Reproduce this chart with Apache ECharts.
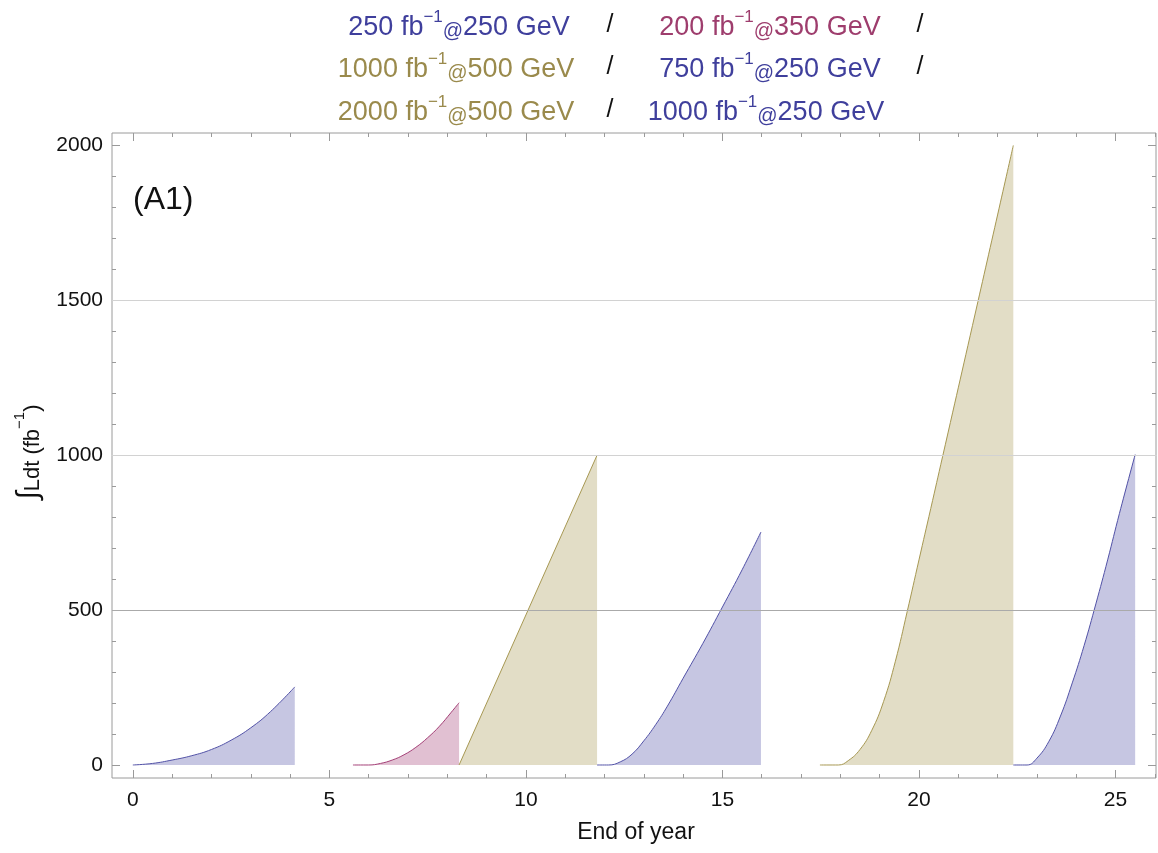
<!DOCTYPE html>
<html>
<head>
<meta charset="utf-8">
<script src="https://cdn.jsdelivr.net/npm/echarts@6/dist/echarts.min.js"></script>
<style>
  html, body { margin: 0; padding: 0; background: #fff; }
  #chart { width: 1158px; height: 853px; }
</style>
</head>
<body>
<div id="chart"></div>
<script>
// integrated luminosity runs, [end of year, fb^-1]
const run250a = [[0, 0], [0.5, 5], [1, 16], [1.5, 30], [2, 50], [2.5, 80], [3, 120], [3.5, 172], [4.12, 252]];
const run350 = [[5.6, 0], [6.0, 0], [6.3, 5], [6.6, 16], [6.9, 33], [7.2, 57], [7.5, 88], [7.8, 125], [8.1, 170], [8.3, 201]];
const run500a = [[8.3, 0], [11.81, 1000]];
const run250b = [[11.81, 0], [12.1, 0], [12.4, 10], [12.7, 35], [13.0, 78], [13.3, 130], [13.6, 190], [14.0, 280], [14.5, 392], [15.0, 510], [15.5, 630], [15.98, 752]];
const run500b = [[17.48, 0], [17.95, 0], [18.2, 14], [18.5, 50], [18.8, 112], [19.1, 205], [19.4, 335], [19.7, 495], [20.0, 662], [20.3, 828], [20.6, 995], [21.5, 1496], [22.4, 2000]];
const run250c = [[22.4, 0], [22.75, 0], [23.0, 22], [23.3, 75], [23.6, 158], [23.9, 265], [24.2, 385], [24.5, 520], [24.8, 662], [25.1, 812], [25.5, 1002]];

const xMajorTicks = [0, 5, 10, 15, 20, 25];
const xMinorTicks = [0, 1, 2, 3, 4, 5, 6, 7, 8, 9, 10, 11, 12, 13, 14, 15, 16, 17, 18, 19, 20, 21, 22, 23, 24, 25, 26];
const yMajorTicks = [0, 500, 1000, 1500, 2000];
const yMinorTicks = [0, 100, 200, 300, 400, 500, 600, 700, 800, 900, 1000, 1100, 1200, 1300, 1400, 1500, 1600, 1700, 1800, 1900, 2000];
const gridValues = [500, 1000, 1500];

const blue = '#5252a7';
const magenta = '#a44077';
const olive = '#a79852';
const frameColor = '#9a9a9a';
const fontFamily = '"Liberation Sans", Arial, sans-serif';

function makeRun(data, color, extra) {
    let s = {
        type: 'line',
        data: data,
        showSymbol: false,
        smooth: 0.45,
        lineStyle: { color: color, width: 1 },
        areaStyle: { color: color, opacity: 0.33, origin: 0 },
        silent: true,
        z: 3
    };
    return Object.assign(s, extra || {});
}

function makeAxis(dim, position, ticks, length, labels) {
    let axis = {
        type: 'value',
        position: position,
        axisLine: { show: false, onZero: false },
        splitLine: { show: false },
        axisTick: { show: true, inside: true, length: length, customValues: ticks, lineStyle: { color: frameColor } },
        axisLabel: { show: false }
    };
    if (dim === 'x') {
        axis.min = -0.53;
        axis.max = 26.03;
    } else {
        axis.min = -42;
        axis.max = 2040;
    }
    if (labels) {
        axis.axisLabel = {
            show: true,
            customValues: labels,
            formatter: v => String(v),
            fontSize: 21,
            color: '#111',
            fontFamily: fontFamily,
            margin: dim === 'x' ? 12 : 9
        };
    }
    return axis;
}

function legendText(label, energy) {
    return '{t|' + label + ' fb}{sup|\u22121}{at|@}{t|' + energy + ' GeV}';
}

function legendRich(color) {
    return {
        t: { fontSize: 27, fill: color, fontFamily: fontFamily, lineHeight: 32, verticalAlign: 'bottom' },
        sup: { fontSize: 17, fill: color, fontFamily: fontFamily, lineHeight: 16, verticalAlign: 'top' },
        at: { fontSize: 20, fill: color, fontFamily: fontFamily, lineHeight: 29, verticalAlign: 'bottom' }
    };
}

function legendItem(x, y, label, energy, color) {
    return {
        type: 'text', x: x, y: y,
        style: { text: legendText(label, energy), rich: legendRich(color), align: 'center', verticalAlign: 'middle' }
    };
}

function slash(x, y) {
    return {
        type: 'text', x: x, y: y,
        style: { text: '/', fontSize: 25, fill: '#111', fontFamily: fontFamily, align: 'center', verticalAlign: 'middle' }
    };
}

const chart = echarts.init(document.getElementById('chart'));

const option = {
    animation: false,
    backgroundColor: '#fff',
    grid: { left: 112, right: 2, top: 133, bottom: 75, show: true, borderColor: frameColor, borderWidth: 1, backgroundColor: 'transparent' },
    xAxis: [
        makeAxis('x', 'bottom', xMajorTicks, 8, xMajorTicks),
        makeAxis('x', 'bottom', xMinorTicks, 4),
        makeAxis('x', 'top', xMajorTicks, 8),
        makeAxis('x', 'top', xMinorTicks, 4)
    ],
    yAxis: [
        makeAxis('y', 'left', yMajorTicks, 8, yMajorTicks),
        makeAxis('y', 'left', yMinorTicks, 4),
        makeAxis('y', 'right', yMajorTicks, 8),
        makeAxis('y', 'right', yMinorTicks, 4)
    ],
    series: [
        makeRun(run250a, blue, {
            markLine: {
                silent: true,
                symbol: ['none', 'none'],
                label: { show: false },
                data: gridValues.map((v, i) => ({
                    yAxis: v,
                    lineStyle: { color: i === 0 ? '#aaaaaa' : '#d2d2d2', width: 1, type: 'solid' }
                }))
            }
        }),
        makeRun(run350, magenta),
        makeRun(run500a, olive, { smooth: false }),
        makeRun(run250b, blue),
        makeRun(run500b, olive),
        makeRun(run250c, blue)
    ],
    graphic: [
        legendItem(459, 25, '250', '250', '#3f3f9c'),
        slash(610, 25),
        legendItem(770, 25, '200', '350', '#9e3d6d'),
        slash(920, 25),
        legendItem(456, 67, '1000', '500', '#9a8a4c'),
        slash(610, 67),
        legendItem(770, 67, '750', '250', '#3f3f9c'),
        slash(920, 67),
        legendItem(456, 110, '2000', '500', '#9a8a4c'),
        slash(610, 110),
        legendItem(766, 110, '1000', '250', '#3f3f9c'),
        {
            type: 'text', x: 133, y: 200,
            style: { text: '(A1)', fontSize: 32, fill: '#111', fontFamily: fontFamily, verticalAlign: 'middle' }
        },
        {
            type: 'text', x: 636, y: 833,
            style: { text: 'End of year', fontSize: 23, fill: '#111', fontFamily: fontFamily, align: 'center', verticalAlign: 'middle' }
        },
        {
            type: 'text', x: 28, y: 452, rotation: Math.PI / 2,
            style: {
                text: '{int|\u222B}{t|Ldt (fb}{sup|\u22121}{t|)}',
                align: 'center', verticalAlign: 'middle',
                rich: {
                    int: { fontSize: 30, fill: '#111', fontFamily: fontFamily, lineHeight: 32, verticalAlign: 'bottom' },
                    t: { fontSize: 22, fill: '#111', fontFamily: fontFamily, lineHeight: 27, verticalAlign: 'bottom' },
                    sup: { fontSize: 15, fill: '#111', fontFamily: fontFamily, lineHeight: 15, verticalAlign: 'top' }
                }
            }
        }
    ]
};

chart.setOption(option);
</script>
</body>
</html>
